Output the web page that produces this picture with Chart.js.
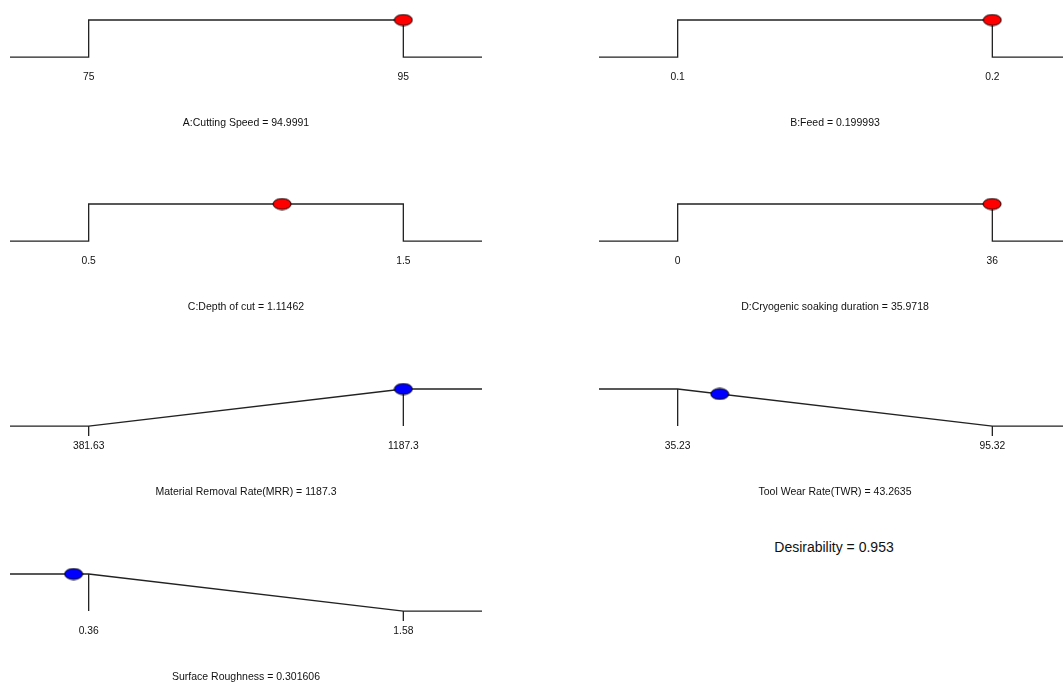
<!DOCTYPE html>
<html>
<head>
<meta charset="utf-8">
<script src="https://cdn.jsdelivr.net/npm/chart.js@4.4.1/dist/chart.umd.min.js"></script>
<style>
  html, body { margin:0; padding:0; background:#fff; width:1063px; height:684px; overflow:hidden; position:relative; }
  canvas { position:absolute; }
  #desir { position:absolute; left:734px; width:200px; top:538px; text-align:center;
           font-family:'Liberation Sans',Arial,sans-serif;
           font-size:14px; color:#111; line-height:18px; }
</style>
</head>
<body>
<div id="desir"></div>
<script>
// ---------- DATA ----------
const panelNames   = ['A:Cutting Speed', 'B:Feed', 'C:Depth of cut', 'D:Cryogenic soaking duration',
                      'Material Removal Rate(MRR)', 'Tool Wear Rate(TWR)', 'Surface Roughness'];
const goals        = ['range', 'range', 'range', 'range', 'maximize', 'minimize', 'minimize'];
const lowLimits    = [75, 0.1, 0.5, 0, 381.63, 35.23, 0.36];
const highLimits   = [95, 0.2, 1.5, 36, 1187.3, 95.32, 1.58];
const lowLabels    = ['75', '0.1', '0.5', '0', '381.63', '35.23', '0.36'];
const highLabels   = ['95', '0.2', '1.5', '36', '1187.3', '95.32', '1.58'];
const solution     = [94.9991, 0.199993, 1.11462, 35.9718, 1187.3, 43.2635, 0.301606];
const solutionText = ['94.9991', '0.199993', '1.11462', '35.9718', '1187.3', '43.2635', '0.301606'];
const desirability = [1, 1, 1, 1, 1, 0.866, 1];
const isFactor     = [true, true, true, true, false, false, false];
const overallDesirability = '0.953';

// ---------- LAYOUT / STYLE ----------
const FONT = "'Liberation Sans',Arial,sans-serif";
const colLeft = [10, 599];
const rowTop  = [20, 204, 389, 574];
const PANEL_W = 472, PAD_TOP = 10, RAMP_H = 37, CANVAS_H = 119;
const TICK_DEPTH = 10 / RAMP_H;
const LINE = '#222';

Chart.defaults.color = '#111';
Chart.defaults.font.family = FONT;

function makeMarker(fill) {
  const c = document.createElement('canvas');
  c.width = 20; c.height = 13;
  const g = c.getContext('2d');
  g.beginPath();
  g.ellipse(10, 6.5, 9, 5.5, 0, 0, Math.PI * 2);
  g.fillStyle = fill; g.fill();
  g.lineWidth = 1; g.strokeStyle = '#000'; g.stroke();
  return c;
}
const redMarker = makeMarker('#ff0000');
const blueMarker = makeMarker('#0000ff');

document.getElementById('desir').textContent = 'Desirability = ' + overallDesirability;

panelNames.forEach((name, i) => {
  const col = i % 2, row = Math.floor(i / 2);
  const lo = lowLimits[i], hi = highLimits[i], span = hi - lo;
  const xmin = lo - 0.25 * span, xmax = hi + 0.25 * span;

  const lines = [];
  if (goals[i] === 'range') {
    lines.push([{x:xmin,y:0},{x:lo,y:0},{x:lo,y:1},{x:hi,y:1},{x:hi,y:0},{x:xmax,y:0}]);
  } else if (goals[i] === 'maximize') {
    lines.push([{x:xmin,y:0},{x:lo,y:0},{x:hi,y:1},{x:xmax,y:1}]);
    lines.push([{x:hi,y:1},{x:hi,y:0}]);
    lines.push([{x:lo,y:0},{x:lo,y:-TICK_DEPTH}]);
  } else {
    lines.push([{x:xmin,y:1},{x:lo,y:1},{x:hi,y:0},{x:xmax,y:0}]);
    lines.push([{x:lo,y:1},{x:lo,y:0}]);
    lines.push([{x:hi,y:0},{x:hi,y:-TICK_DEPTH}]);
  }

  const datasets = [{
    type: 'scatter', data: [{x: solution[i], y: desirability[i]}], order: 0,
    pointStyle: isFactor[i] ? redMarker : blueMarker, pointRadius: 9, clip: false
  }];
  lines.forEach(pts => datasets.push({
    type: 'line', data: pts, borderColor: LINE, borderWidth: 1.3, order: 1,
    pointRadius: 0, tension: 0, clip: false, fill: false
  }));

  const cv = document.createElement('canvas');
  cv.width = PANEL_W; cv.height = CANVAS_H;
  cv.style.left = colLeft[col] + 'px';
  cv.style.top = (rowTop[row] - PAD_TOP) + 'px';
  cv.style.width = PANEL_W + 'px'; cv.style.height = CANVAS_H + 'px';
  document.body.appendChild(cv);

  new Chart(cv, {
    type: 'line',
    data: { datasets },
    options: {
      responsive: false, animation: false, devicePixelRatio: 1,
      layout: { autoPadding: false, padding: { top: PAD_TOP, left: 0, right: 0, bottom: 0 } },
      plugins: {
        legend: { display: false }, tooltip: { enabled: false },
        title: {
          display: true, position: 'bottom', text: name + ' = ' + solutionText[i],
          font: { size: 10.5, family: FONT, weight: 'normal' }, color: '#111',
          padding: { top: 19, bottom: 0 }
        }
      },
      scales: {
        x: {
          type: 'linear', min: xmin, max: xmax,
          grid: { display: false, drawTicks: false }, border: { display: false },
          afterBuildTicks: ax => { ax.ticks = [{value: lo}, {value: hi}]; },
          ticks: {
            padding: 14, maxRotation: 0, autoSkip: false,
            font: { size: 10.3, family: FONT }, color: '#111',
            callback: v => (v === lo ? lowLabels[i] : (v === hi ? highLabels[i] : ''))
          }
        },
        y: { display: false, min: 0, max: 1 }
      }
    }
  });
});
</script>
</body>
</html>
